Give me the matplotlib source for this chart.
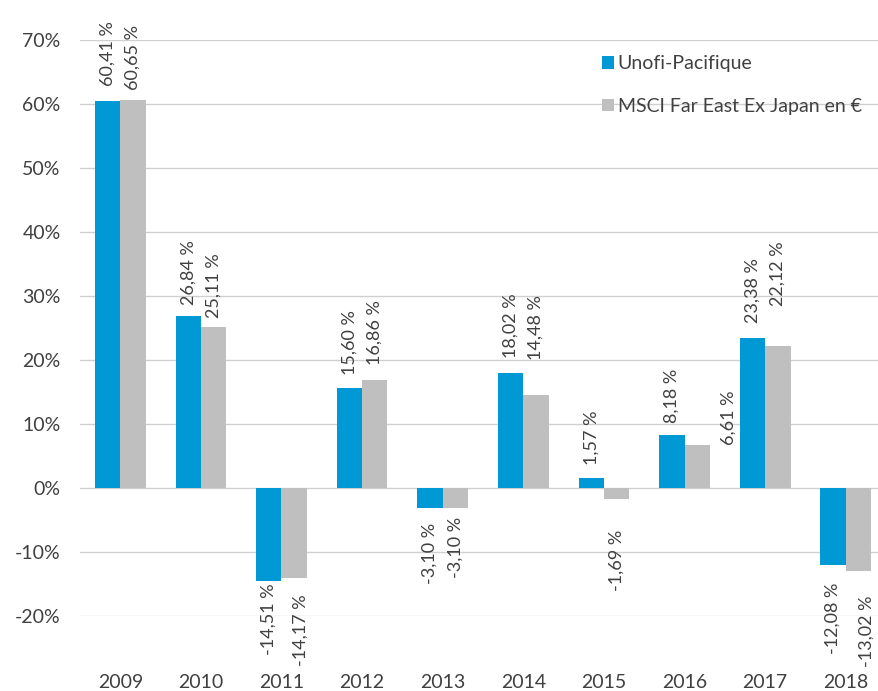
import matplotlib
matplotlib.use("Agg")
import matplotlib.pyplot as plt
import numpy as np

plt.rcParams['font.family'] = ['Lato', 'DejaVu Sans']

years = ["2009", "2010", "2011", "2012", "2013", "2014", "2015", "2016", "2017", "2018"]
unofi = [60.41, 26.84, -14.51, 15.60, -3.10, 18.02, 1.57, 8.18, 23.38, -12.08]
msci = [60.65, 25.11, -14.17, 16.86, -3.10, 14.48, -1.69, 6.61, 22.12, -13.02]
series_names = ["Unofi-Pacifique", "MSCI Far East Ex Japan en €"]
yticks = [-20, -10, 0, 10, 20, 30, 40, 50, 60, 70]

# label gaps (pixels) and horizontal nudges, mimicking the original layout
gap_blue = [15, 11, 3, 13, 15, 15, 13, 12, 15, 18]
gap_grey = [10, 9, 16, 15, 9, 35, 31, 0, 40, 24]
dx_grey = [0, 0, 6, 0, 0, 0, 0, 31, 0, 8]

blue = "#0099D6"
grey = "#BFBFBF"
txt = "#404040"

fig = plt.figure(figsize=(8.79, 6.91), dpi=100)
ax = fig.add_axes([0.091, 0.109, 0.917, 0.833])

x = np.arange(len(years))
w = 0.315
ax.bar(x - w / 2, unofi, w, color=blue, label=series_names[0], zorder=3)
ax.bar(x + w / 2, msci, w, color=grey, label=series_names[1], zorder=3)

px = 72 / 100.0


def fmt(v):
    return ("%.2f" % v).replace(".", ",") + " %"


for i in range(len(years)):
    for vals, off, gaps, dxs in ((unofi, -w / 2, gap_blue, None), (msci, w / 2, gap_grey, dx_grey)):
        v = vals[i]
        g = gaps[i] * px
        dx = (dxs[i] if dxs else 0) * px
        ax.annotate(fmt(v), xy=(x[i] + off, v), xytext=(dx, g if v >= 0 else -g),
                    textcoords="offset points", rotation=90, ha="center",
                    va="bottom" if v >= 0 else "top", fontsize=13, color=txt,
                    zorder=4)

ax.set_xlim(-0.5, 9.5)
ax.set_ylim(-20, 70)
ax.set_yticks(yticks)
ax.set_yticklabels([f"{t}%" for t in yticks])
ax.set_xticks(x)
ax.set_xticklabels(years)
ax.tick_params(axis="both", length=0, labelsize=14, colors=txt)
ax.tick_params(axis="x", pad=42)
ax.tick_params(axis="y", pad=14)
ax.grid(axis="y", color="#D0D0D0", linewidth=1, zorder=0)
for s in ax.spines.values():
    s.set_visible(False)

leg = ax.legend(loc="upper left", bbox_to_anchor=(0.638, 0.987), frameon=False,
                handlelength=0.6, handleheight=0.6, handletextpad=0.2,
                labelspacing=1.3, fontsize=14, borderaxespad=0)
for t in leg.get_texts():
    t.set_color(txt)

fig.savefig("out.png", dpi=100, facecolor="white")
